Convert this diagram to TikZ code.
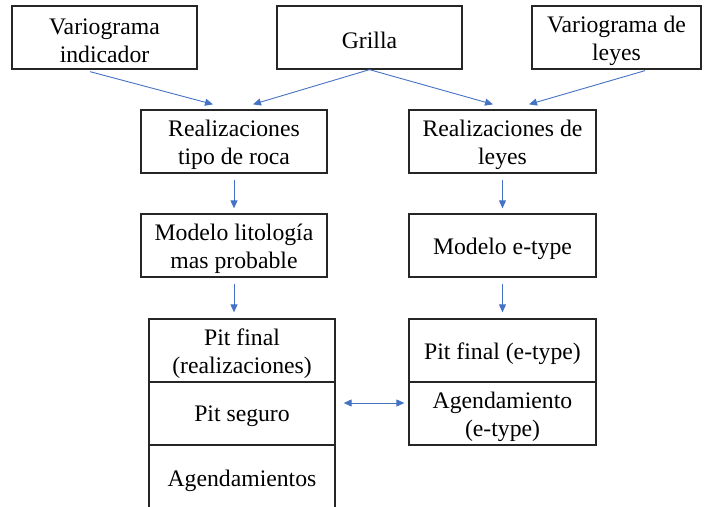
\documentclass[tikz,border=0pt]{standalone}
\usepackage{fontspec}
\setmainfont{Liberation Serif}
\usetikzlibrary{arrows.meta,calc}
\definecolor{arrblue}{HTML}{4472C4}
\definecolor{boxline}{HTML}{262626}
\begin{document}
\begin{tikzpicture}[x=1pt,y=-1pt,
  txt/.style={inner sep=0pt,align=center,font=\fontsize{23.7}{28}\selectfont,text=black,yshift=-3pt},
  box/.style={draw=boxline,line width=1.3pt,inner sep=0pt,label={[txt]center:{#1}}},
  arr/.style={draw=arrblue,line width=0.9pt,-{Triangle[length=8pt,width=7pt]}},
  darr/.style={draw=arrblue,line width=0.9pt,{Triangle[length=8pt,width=7pt]}-{Triangle[length=8pt,width=7pt]}}]
\useasboundingbox (0,0) rectangle (704,506);
\clip (0,0) rectangle (704,506);
% top row
\node[box={Variograma\\indicador},minimum width=185pt,minimum height=63pt] (v1) at (104.5,37.5) {};
\node[box={Grilla},minimum width=185pt,minimum height=63pt] (g) at (369.5,37.5) {};
\node[box={Variograma de\\leyes},minimum width=169pt,minimum height=63pt] (v3) at (616.5,37.5) {};
% second row
\node[box={Realizaciones\\tipo de roca},minimum width=186pt,minimum height=63pt] (r1) at (234,141.5) {};
\node[box={Realizaciones de\\leyes},minimum width=187pt,minimum height=63pt] (r2) at (502.5,141.5) {};
% third row
\node[box={Modelo litología\\mas probable},minimum width=186pt,minimum height=63pt] (m1) at (234,245.5) {};
\node[box={Modelo e-type},minimum width=187pt,minimum height=63pt] (m2) at (502.5,245.5) {};
% left stack
\node[box={Pit final\\(realizaciones)},minimum width=186pt,minimum height=63pt] (p1) at (242,350.5) {};
\node[box={Pit seguro},minimum width=186pt,minimum height=63pt] (p2) at (242,413.5) {};
\node[box={Agendamientos},minimum width=186pt,minimum height=65pt] (p3) at (242,477.5) {};
% right stack
\node[box={Pit final (e-type)},minimum width=187pt,minimum height=63pt] (e1) at (502.5,350.5) {};
\node[box={Agendamiento\\(e-type)},minimum width=187pt,minimum height=63pt] (e2) at (502.5,413.5) {};
% arrows top
\draw[arr] ([xshift=-14.5pt,yshift=-2pt]v1.south) -- ([xshift=-21pt,yshift=5pt]r1.north);
\draw[arr] (g.south) -- ([xshift=19pt,yshift=5pt]r1.north);
\draw[arr] (g.south) -- ([xshift=-9.5pt,yshift=5pt]r2.north);
\draw[arr] ([xshift=28.5pt,yshift=-1pt]v3.south) -- ([xshift=26.5pt,yshift=5pt]r2.north);
% vertical arrows
\draw[arr] ([yshift=-6pt]r1.south) -- ([yshift=5pt]m1.north);
\draw[arr] ([yshift=-6pt]r2.south) -- ([yshift=5pt]m2.north);
\draw[arr] ([yshift=-6pt]m1.south) -- ([yshift=6pt]m1.south |- p1.north);
\draw[arr] ([yshift=-6pt]m2.south) -- ([yshift=6pt]m2.south |- e1.north);
% double arrow
\draw[darr] ([xshift=8pt,yshift=10.5pt]p2.east) -- ([xshift=-4pt,yshift=10.5pt]p2.east -| e2.west);
\end{tikzpicture}
\end{document}
